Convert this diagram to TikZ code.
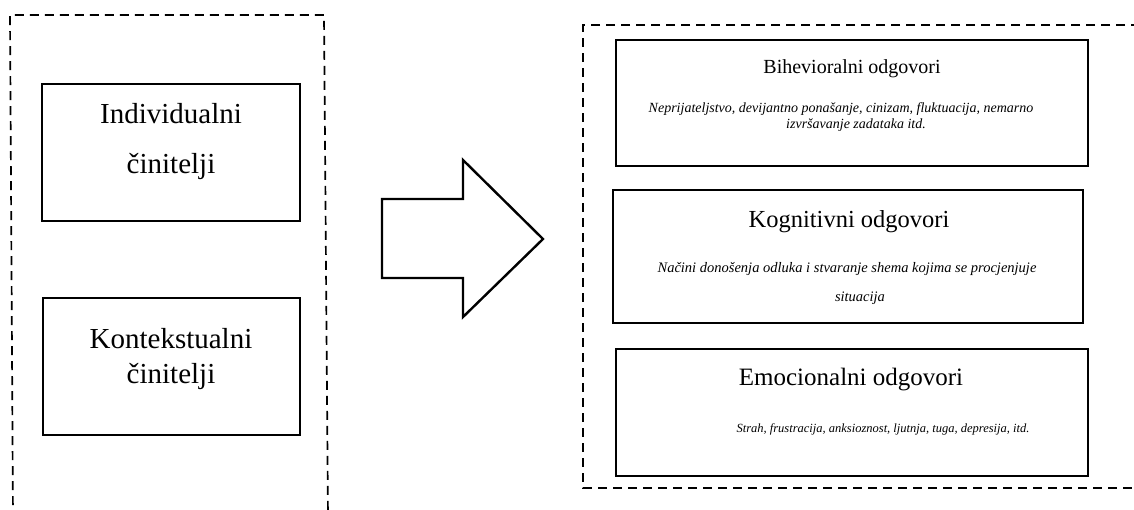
\documentclass[tikz,border=0pt]{standalone}
\usepackage{fontspec}
\setmainfont{Liberation Serif}
\begin{document}
\begin{tikzpicture}[x=1pt,y=-1pt,
  box/.style={draw, line width=2.6pt, inner sep=0pt},
  dashbox/.style={draw, line width=1.7pt, dash pattern=on 9pt off 6pt},
  arrowshape/.style={draw, line width=2.4pt, line join=miter},
  lefttxt/.style={anchor=base, inner sep=0pt, font=\fontsize{29}{35}\selectfont},
  titletxt/.style={anchor=base, inner sep=0pt},
  desctxt/.style={anchor=base, inner sep=0pt}]
\useasboundingbox (0,0) rectangle (1134,509);
\clip (0,0) rectangle (1134,509);
% left dashed frame
\draw[dashbox] (13,520) -- (10,15) -- (324,15) -- (328,520);
% left boxes
\node[box, minimum width=258pt, minimum height=137pt] (ind) at (171,152.5) {};
\node[lefttxt] (ind1) at (171,123) {Individualni};
\node[lefttxt] (ind2) at (171,173) {činitelji};
\node[box, minimum width=257pt, minimum height=137pt] (kon) at (171.5,366.5) {};
\node[lefttxt] (kon1) at (171,348) {Kontekstualni};
\node[lefttxt] (kon2) at (171,383) {činitelji};
% big arrow
\draw[arrowshape] (382,199) -- (463,199) -- (463,160) -- (543,239) -- (463,317) -- (463,278) -- (382,278) -- cycle;
% right dashed frame
\draw[dashbox] (1140,25) -- (583,25) -- (583,488) -- (1140,488);
% Bihevioralni
\node[box, minimum width=472pt, minimum height=126pt] (bih) at (852,103) {};
\node[titletxt, font=\fontsize{20}{24}\selectfont] (bih1) at (852,73) {Bihevioralni odgovori};
\node[desctxt, font=\fontsize{14}{16}\selectfont\itshape] (bih2) at (841,112) {Neprijateljstvo, devijantno ponašanje, cinizam, fluktuacija, nemarno};
\node[desctxt, font=\fontsize{14}{16}\selectfont\itshape] (bih3) at (856,128) {izvršavanje zadataka itd.};
% Kognitivni
\node[box, minimum width=470pt, minimum height=133pt] (kog) at (848,256.5) {};
\node[titletxt, font=\fontsize{24.5}{29}\selectfont] (kog1) at (849,227) {Kognitivni odgovori};
\node[desctxt, font=\fontsize{14.5}{17}\selectfont\itshape] (kog2) at (847,272) {Načini donošenja odluka i stvaranje shema kojima se procjenjuje};
\node[desctxt, font=\fontsize{14.5}{17}\selectfont\itshape] (kog3) at (860,301) {situacija};
% Emocionalni
\node[box, minimum width=472pt, minimum height=127pt] (emo) at (852,412.5) {};
\node[titletxt, font=\fontsize{25}{29}\selectfont] (emo1) at (851,385) {Emocionalni odgovori};
\node[desctxt, font=\fontsize{12.5}{15}\selectfont\itshape] (emo2) at (883,432) {Strah, frustracija, anksioznost, ljutnja, tuga, depresija, itd.};
\end{tikzpicture}
\end{document}
